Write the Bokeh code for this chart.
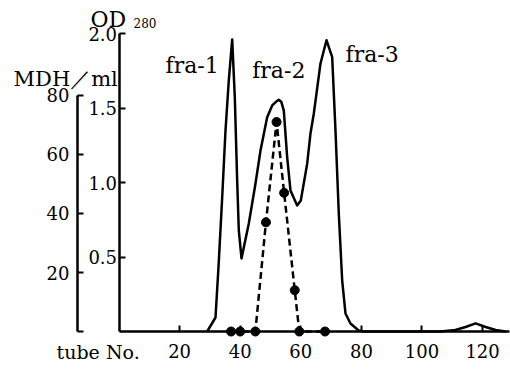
from bokeh.plotting import figure
from bokeh.models import Range1d, LinearAxis, FixedTicker, Label, ColumnDataSource
from bokeh.embed import file_html
from bokeh.resources import INLINE

# ---- data ----
od_tube = [29.1, 31.85, 32.9, 34.06, 35.15, 36.24, 37.36, 38.22, 39.0, 39.54, 40.43,
           42.84, 45.05, 46.7, 48.9, 50.56, 52.0, 52.74, 53.6, 54.39, 55.5, 56.6, 58.8,
           60.0, 62.1, 63.2, 64.3, 66.5, 68.48, 70.36, 71.45, 72.54, 73.66, 74.75,
           76.4, 79.1, 80.7, 106.1, 111.0, 114.4, 117.7, 121.0, 124.3, 127.6]
od_value = [0.0, 0.094, 0.456, 0.901, 1.349, 1.685, 1.96, 1.573, 1.013, 0.678, 0.49,
            0.725, 0.993, 1.215, 1.438, 1.517, 1.545, 1.555, 1.54, 1.483, 1.17, 0.946, 0.846,
            0.879, 1.125, 1.329, 1.463, 1.799, 1.955, 1.841, 1.349, 0.792, 0.342, 0.121,
            0.054, 0.007, 0.0, 0.0, 0.01, 0.03, 0.055, 0.03, 0.01, 0.0]

mdh_tube = [37, 40, 45, 48.5, 52, 54.5, 58, 59.5, 68]
mdh_value = [0, 0, 0, 37, 71, 47, 14, 0, 0]

x_ticks = [20, 40, 60, 80, 100, 120]
od_ticks = [0.5, 1.0, 1.5, 2.0]
od_tick_labels = ["0.5", "1.0", "1.5", "2.0"]
mdh_ticks = [0, 20, 40, 60, 80]
mdh_tick_labels = ["", "20", "40", "60", "80"]

peak_labels = ["fra-1", "fra-2", "fra-3"]

FONT = "DejaVu Serif"

p = figure(width=510, height=369,
           x_range=Range1d(-39.11, 129.21), y_range=Range1d(-0.255, 2.2215),
           output_backend="svg", toolbar_location=None,
           x_axis_type=None, y_axis_type=None, min_border=0)
p.outline_line_color = None
p.background_fill_color = "white"
p.border_fill_color = "white"
p.extra_y_ranges = {"mdh": Range1d(-12.88, 112.2)}


def style(ax, size="18px"):
    ax.axis_line_width = 2.5
    ax.axis_line_color = "black"
    ax.major_tick_line_width = 2
    ax.major_tick_line_color = "black"
    ax.major_tick_out = 0
    ax.major_tick_in = 6
    ax.minor_tick_line_color = None
    ax.major_label_text_font = FONT
    ax.major_label_text_font_size = size
    ax.major_label_text_color = "black"


xaxis = LinearAxis(fixed_location=0, bounds=(0, 129), ticker=FixedTicker(ticks=x_ticks))
style(xaxis)
xaxis.major_label_standoff = 12
p.add_layout(xaxis, "below")

od_axis = LinearAxis(fixed_location=0, bounds=(0, 2.0), ticker=FixedTicker(ticks=od_ticks),
                     major_label_overrides={t: l for t, l in zip(od_ticks, od_tick_labels)})
style(od_axis)
od_axis.major_label_standoff = 2
p.add_layout(od_axis, "left")

mdh_axis = LinearAxis(y_range_name="mdh", fixed_location=-13.7, bounds=(0, 80),
                      ticker=FixedTicker(ticks=mdh_ticks),
                      major_label_overrides={t: l for t, l in zip(mdh_ticks, mdh_tick_labels)})
style(mdh_axis)
mdh_axis.major_label_standoff = 8
p.add_layout(mdh_axis, "left")

# OD280 curve
p.line(od_tube, od_value, line_color="black", line_width=2.5, line_join="round")

# MDH activity
src = ColumnDataSource(dict(x=mdh_tube, y=mdh_value))
p.line("x", "y", source=src, y_range_name="mdh", line_color="black", line_width=2.5,
       line_dash="7 4")
p.scatter("x", "y", source=src, y_range_name="mdh", size=9, fill_color="black",
          line_color="black")

# texts
def lab(x, y, text, size="22px"):
    p.add_layout(Label(x=x, y=y, text=text, text_font=FONT, text_font_size=size,
                       text_color="black", text_baseline="alphabetic", text_align="left"))

lab(15.35, 1.784, peak_labels[0])
lab(43.96, 1.75, peak_labels[1])
lab(74.75, 1.861, peak_labels[2])
lab(-9.41, 2.094, "OD")
lab(4.79, 2.07, "280", size="12px")
lab(-34.8, 1.698, "MDH／ml", size="21px")
lab(-20.6, -0.135, "tube No.", size="19px")

open("out.html", "w").write(file_html(p, INLINE))
